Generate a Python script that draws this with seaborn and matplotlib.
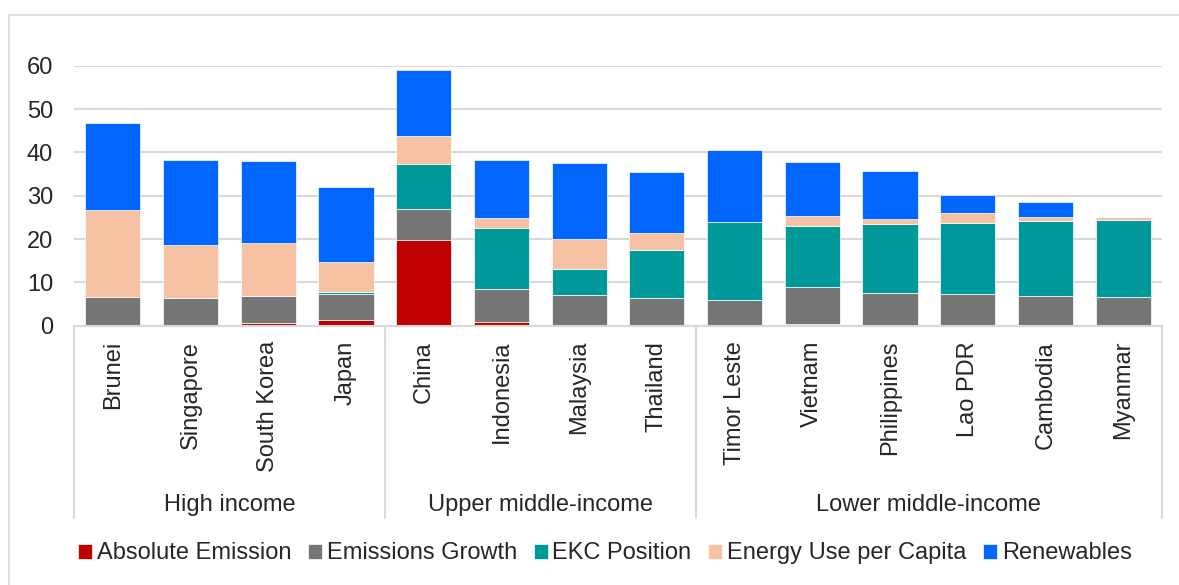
import numpy as np
import pandas as pd
import seaborn as sns
import matplotlib.pyplot as plt
from matplotlib.patches import Rectangle
from matplotlib.transforms import blended_transform_factory

countries = ["Brunei", "Singapore", "South Korea", "Japan",
             "China", "Indonesia", "Malaysia", "Thailand",
             "Timor Leste", "Vietnam", "Philippines", "Lao PDR", "Cambodia", "Myanmar"]
groups = ["High income", "Upper middle-income", "Lower middle-income"]
group_sizes = [4, 4, 6]

absolute = [0, 0, 0.6, 1.3, 19.7, 0.9, 0.2, 0.2, 0, 0.5, 0.1, 0, 0, 0]
growth = [6.6, 6.4, 6.2, 6.0, 7.2, 7.6, 6.9, 6.2, 5.9, 8.5, 7.5, 7.3, 6.9, 6.6]
ekc = [0, 0, 0, 0.4, 10.4, 14.0, 5.9, 11.0, 18.1, 14.1, 15.9, 16.5, 17.2, 17.9]
energy = [20.2, 12.3, 12.3, 7.0, 6.5, 2.3, 7.0, 4.1, 0, 2.2, 1.2, 2.1, 1.1, 0.7]
renew = [20.0, 19.6, 19.0, 17.2, 15.2, 13.5, 17.6, 14.0, 16.5, 12.4, 11.1, 4.3, 3.4, 0]

series = ["Absolute Emission", "Emissions Growth", "EKC Position",
          "Energy Use per Capita", "Renewables"]
colors = ["#C00000", "#767676", "#009999", "#F7C2A4", "#0066FF"]

df = pd.DataFrame({"country": countries, series[0]: absolute, series[1]: growth,
                   series[2]: ekc, series[3]: energy, series[4]: renew})

sns.set_style("white")
plt.rcParams["font.family"] = ["Liberation Sans", "DejaVu Sans"]

fig = plt.figure(figsize=(11.79, 5.85), dpi=100)
ax = fig.add_axes([74 / 1179, 1 - 325.7 / 585, (1162 - 74) / 1179, 260 / 585])

# stacked bars, one barplot call per series
bottom = np.zeros(len(df))
for name, col in zip(series, colors):
    sns.barplot(data=df, x="country", y=name, bottom=bottom, color=col,
                saturation=1, width=0.71, edgecolor="white", linewidth=0.5,
                label=name, ax=ax)
    bottom = bottom + df[name].values

ax.set_ylim(0, 60)
ax.set_xlim(-0.5, len(countries) - 0.5)
ax.set_yticks(range(0, 61, 10))
ax.yaxis.grid(True, color="#D9D9D9", linewidth=1.5)
ax.set_axisbelow(True)
for s in ["top", "right", "left"]:
    ax.spines[s].set_visible(False)
ax.spines["bottom"].set_color("#D9D9D9")
ax.spines["bottom"].set_linewidth(1.5)
ax.set_xlabel("")
ax.set_ylabel("")
ax.tick_params(axis="y", length=0, pad=15, labelsize=17)
ax.tick_params(axis="x", length=0, pad=11, labelsize=17, rotation=90)

# group separators and labels under the category axis
trans = blended_transform_factory(ax.transData, ax.transAxes)
edges = np.concatenate([[0], np.cumsum(group_sizes)]) - 0.5
for e in edges:
    ax.plot([e, e], [0, -0.74], transform=trans, color="#D9D9D9",
            linewidth=1.5, clip_on=False)
for g, a, b in zip(groups, edges[:-1], edges[1:]):
    ax.text((a + b) / 2, -0.69, g, transform=trans, ha="center", va="center",
            fontsize=17)

if ax.legend_:
    ax.legend_.remove()
handles, labels = ax.get_legend_handles_labels()
fig.legend(handles[:5], labels[:5], loc="center", bbox_to_anchor=(0.513, 0.054),
           ncol=5, frameon=False, fontsize=17, handlelength=0.6, handleheight=0.6,
           handletextpad=0.2, columnspacing=0.7, borderaxespad=0)

# light frame around the chart area
fig.patches.append(Rectangle((9 / 1179, -0.1), 1.2, 1.1 - 15 / 585,
                             transform=fig.transFigure, fill=False,
                             edgecolor="#D9D9D9", linewidth=1.2))

plt.savefig("out.png", dpi=100)
